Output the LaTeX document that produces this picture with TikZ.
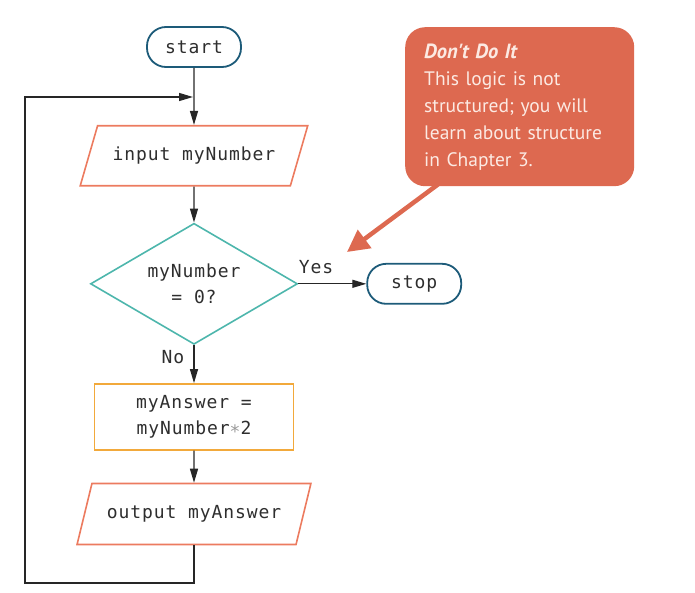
\documentclass[tikz,border=0pt]{standalone}
\usepackage{fontspec}
\usepackage{tikz}
\usetikzlibrary{arrows.meta,positioning,shapes.geometric}
\newfontfamily\flowfont[LetterSpace=5]{DejaVu Sans Mono}
\newfontfamily\notefont{PT Sans}
\definecolor{termblue}{HTML}{1D5B79}
\definecolor{iored}{HTML}{EC7B5F}
\definecolor{decteal}{HTML}{4DB6AC}
\definecolor{procorange}{HTML}{F2A93B}
\definecolor{notered}{HTML}{DD6950}
\definecolor{notetext}{HTML}{FCEAE3}
\definecolor{inkgray}{HTML}{2E2E2E}

\begin{document}
\begin{tikzpicture}
    [x=1pt,y=1pt,
     every node/.style={font=\flowfont\fontsize{18}{22}\selectfont, text=inkgray},
     term/.style={
       rectangle, rounded corners=19pt,
       draw=termblue, line width=1.8pt,
       minimum width=94pt, minimum height=40pt
       },
     io/.style={
       trapezium, trapezium stretches=true,
       trapezium left angle=#1, trapezium right angle=180-#1,
       draw=iored, line width=1.6pt,
       minimum width=228pt, minimum height=60pt, inner sep=0pt
       },
     io/.default=50,
     dec/.style={
       diamond, draw=decteal, line width=1.6pt,
       minimum width=207pt, minimum height=121pt, inner sep=0pt
       },
     proc/.style={
       rectangle, draw=procorange, line width=1.6pt,
       minimum width=199pt, minimum height=66pt, align=center
       },
     flow/.style={-{Triangle[length=14pt,width=8pt]}, line width=1.3pt, black!85},
     lbl/.style={inner sep=0pt}
    ]

    \useasboundingbox (0,0) rectangle (695,-592);

    % main column
    \node (start) [term] at (194,-47) {start};
    \node (in)  [io, below=57pt of start] {input myNumber};
    \node (dec) [dec, below=36pt of in,
                 label={[align=center]center:myNumber\\[4pt]= 0?}] {};
    \node (stop)[term, right=68pt of dec] {stop};
    \node (calc)[proc, below=38pt of dec] {myAnswer =\\[4pt]myNumber{\color{gray!80}\symbol{"2217}}2};
    \node (out) [io=53, below=32pt of calc, minimum width=234pt, minimum height=61pt] {output myAnswer};

    \node[lbl] (yes) at (316,-267) {Yes};
    \node[lbl] (no)  at (173,-357) {No};

    \draw[flow] (start) -- (in);
    \draw[flow] (in) -- (dec);
    \draw[flow] (dec.east) -- (stop.west);
    \draw[flow] (dec) -- (calc);
    \draw[flow] (calc) -- (out);

    % loop back to the top
    \coordinate (loopbl) at (25,-583);
    \coordinate (join) at (193,-97);
    \draw[flow] (out.south) |- (loopbl) |- (join);

    % warning note
    \node (note) [rectangle, rounded corners=20pt, fill=notered, anchor=north west,
                  minimum width=225pt, minimum height=159pt, text width=191pt,
                  inner xsep=19pt, inner ysep=9pt, align=left, text=notetext,
                  font=\notefont\fontsize{19.5}{27}\selectfont] at (405,-27)
      {{\bfseries\itshape\fontsize{20.5}{27}\selectfont Don't Do It}\\This logic is not\\structured; you will\\learn about structure\\in Chapter 3.};
    \coordinate (tip) at (347,-252);
    \draw[-{Triangle[length=22pt,width=22pt]}, line width=4.5pt, notered]
      ([xshift=33pt,yshift=2pt]note.south west) -- (tip);

  \end{tikzpicture}
\end{document}
